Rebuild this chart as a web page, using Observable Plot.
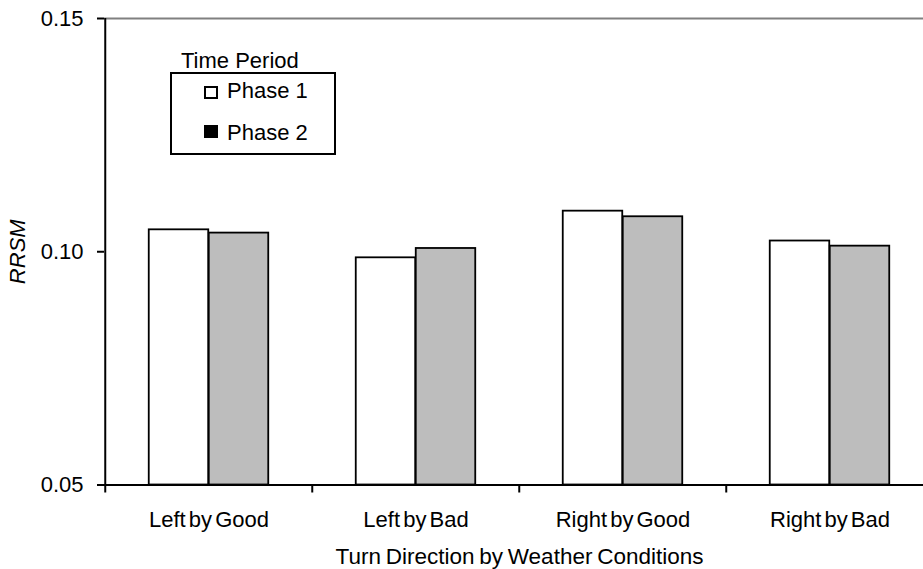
<!DOCTYPE html>
<html><head><meta charset="utf-8">
<script src="https://cdn.jsdelivr.net/npm/d3@7"></script>
<script src="https://cdn.jsdelivr.net/npm/@observablehq/plot@0.6"></script>
<style>
html,body{margin:0;padding:0;background:#fff;overflow:hidden}
#wrap{position:relative;width:923px;height:569px;overflow:hidden;font-family:"Liberation Sans",Arial,sans-serif;color:#000}
#wrap svg{max-width:none !important;display:block}
g[aria-label="x-axis tick label"] text{word-spacing:-3px}
.xtitle text{word-spacing:-1.5px}
.lg-title{position:absolute;left:181px;top:50px;font-size:22px;line-height:22px;white-space:nowrap;z-index:3}
.lg-box{position:absolute;left:170px;top:72px;width:166px;height:83px;box-sizing:border-box;border:2px solid #000;background:#fff;z-index:2}
.lg-sw{position:absolute;left:204px;width:14px;height:13px;box-sizing:border-box;border:2px solid #000;z-index:3}
.lg-lab{position:absolute;left:227px;font-size:22px;line-height:22px;white-space:nowrap;z-index:3}
</style></head><body><div id="wrap"></div>
<script>
const categories = ["Left by Good", "Left by Bad", "Right by Good", "Right by Bad"];
const phases = ["Phase 1", "Phase 2"];
const phase1 = [0.1047, 0.0987, 0.1087, 0.1023];
const phase2 = [0.1040, 0.1007, 0.1075, 0.1012];
const yTicks = [0.05, 0.10, 0.15];
const phaseFill = ["#ffffff", "#bdbdbd"];
const legendSwatch = ["#ffffff", "#000000"];
const xTitle = "Turn Direction by Weather Conditions";
const yTitle = "RRSM";
const legendTitle = "Time Period";

const W = 940, H = 569, ML = 104, MR = 6, MT = 18, MB = 84.5;
const step = (W - ML - MR) / categories.length;
const bw = 60;
const font = "'Liberation Sans', Arial, sans-serif";

const rows = categories.flatMap((c, i) => [
  {cat: c, phase: phases[0], v: phase1[i]},
  {cat: c, phase: phases[1], v: phase2[i]}
]);
const r1 = rows.filter(d => d.phase === phases[0]);
const r2 = rows.filter(d => d.phase === phases[1]);

const chart = Plot.plot({
  width: W, height: H,
  marginLeft: ML, marginRight: MR, marginTop: MT, marginBottom: MB,
  style: {fontFamily: font, fontSize: "22px", color: "#000", background: "transparent", maxWidth: "none"},
  x: {domain: categories, padding: 0, axis: null},
  y: {domain: [yTicks[0], yTicks[2]], axis: null},
  marks: [
    Plot.ruleY([yTicks[2]], {stroke: "#808080", strokeWidth: 2}),
    Plot.barY(r1, {x: "cat", y1: () => yTicks[0], y2: "v", fill: phaseFill[0], stroke: "#000", strokeWidth: 1.8,
      insetLeft: step / 2 - bw, insetRight: step / 2}),
    Plot.barY(r2, {x: "cat", y1: () => yTicks[0], y2: "v", fill: phaseFill[1], stroke: "#000", strokeWidth: 1.8,
      insetLeft: step / 2, insetRight: step / 2 - bw}),
    Plot.ruleY([yTicks[0]], {stroke: "#000", strokeWidth: 2}),
    Plot.ruleX([categories[0]], {dx: -step / 2, y1: () => yTicks[0], y2: () => yTicks[2], stroke: "#000", strokeWidth: 2}),
    Plot.axisY(yTicks, {tickSize: 7, tickPadding: 14, tickFormat: d3.format(".2f"), strokeWidth: 2, label: null, fontSize: 22}),
    Plot.axisX({tickSize: 8, dx: -step / 2, tickFormat: () => "", strokeWidth: 2, label: null}),
    Plot.axisX({tickSize: 0, tickPadding: 26, label: null, fontSize: 22}),
    Plot.text([yTitle], {text: d => d, frameAnchor: "left", textAnchor: "middle", rotate: -90, dx: -87, fontSize: 22, fontStyle: "italic"}),
    Plot.text([xTitle], {text: d => d, frameAnchor: "bottom", textAnchor: "middle", dy: 79, fontSize: 22.5, className: "xtitle"})
  ]
});
const wrap = document.getElementById("wrap");
wrap.appendChild(chart);

// legend
const lt = document.createElement("div"); lt.className = "lg-title"; lt.textContent = legendTitle; wrap.appendChild(lt);
const box = document.createElement("div"); box.className = "lg-box"; wrap.appendChild(box);
const swTops = [86, 125], labTops = [80, 122];
phases.forEach((p, i) => {
  const sw = document.createElement("div"); sw.className = "lg-sw";
  sw.style.top = swTops[i] + "px"; sw.style.background = legendSwatch[i]; wrap.appendChild(sw);
  const lb = document.createElement("div"); lb.className = "lg-lab";
  lb.style.top = labTops[i] + "px"; lb.textContent = p; wrap.appendChild(lb);
});
</script></body></html>
